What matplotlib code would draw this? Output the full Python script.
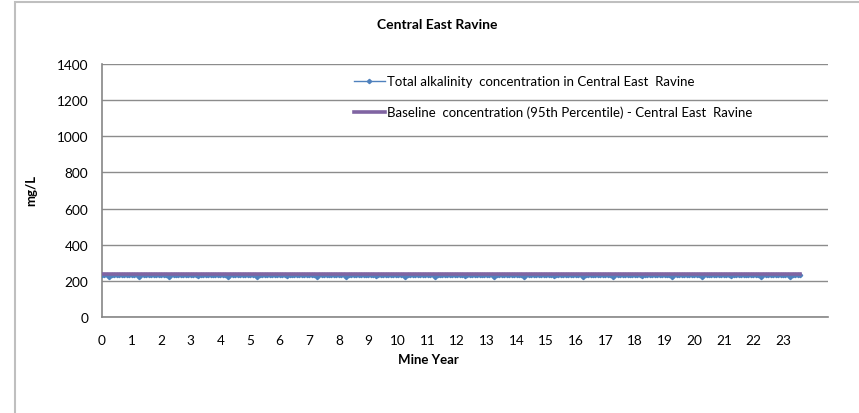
from __future__ import annotations

import matplotlib
matplotlib.use("Agg")
import matplotlib.pyplot as plt
from matplotlib.patches import Rectangle

plt.rcParams["font.family"] = ["Lato", "DejaVu Sans"]

title = "Central East Ravine"
alk_label = "Total alkalinity  concentration in Central East  Ravine"
base_label = "Baseline  concentration (95th Percentile) - Central East  Ravine"
year_ticks = list(range(0, 24))
y_ticks = [0, 200, 400, 600, 800, 1000, 1200, 1400]

# monthly alkalinity values (mg/L), one row per mine year
alk_by_year = [
    [233, 234, 233, 224, 232, 233, 234, 233, 232, 233, 234, 233],
    [233, 233, 234, 223, 232, 233, 233, 234, 233, 232, 233, 234],
    [234, 233, 233, 224, 233, 232, 233, 234, 233, 233, 232, 233],
    [233, 234, 233, 225, 232, 233, 234, 233, 233, 232, 233, 233],
    [233, 233, 232, 224, 233, 234, 233, 232, 233, 234, 233, 233],
    [232, 233, 234, 224, 233, 233, 232, 233, 234, 233, 233, 232],
    [233, 234, 233, 225, 232, 233, 233, 234, 233, 232, 233, 234],
    [233, 232, 233, 224, 234, 233, 232, 233, 233, 234, 233, 232],
    [234, 233, 233, 224, 233, 232, 234, 233, 232, 233, 233, 234],
    [233, 233, 234, 225, 232, 233, 233, 234, 233, 233, 232, 233],
    [232, 234, 233, 224, 233, 233, 234, 232, 233, 234, 233, 233],
    [233, 233, 232, 224, 234, 233, 233, 233, 232, 233, 234, 233],
    [234, 233, 233, 225, 233, 232, 233, 234, 233, 233, 233, 232],
    [233, 232, 234, 224, 233, 234, 233, 233, 232, 233, 234, 233],
    [233, 234, 233, 224, 232, 233, 234, 233, 233, 232, 233, 234],
    [232, 233, 233, 225, 234, 233, 232, 233, 234, 233, 233, 233],
    [233, 234, 232, 224, 233, 233, 234, 233, 232, 234, 233, 232],
    [234, 233, 233, 224, 232, 234, 233, 233, 233, 232, 234, 233],
    [233, 233, 234, 225, 233, 232, 233, 234, 233, 233, 232, 234],
    [232, 234, 233, 224, 233, 233, 234, 232, 233, 234, 233, 233],
    [233, 233, 233, 224, 234, 233, 232, 233, 234, 233, 233, 232],
    [234, 232, 233, 225, 233, 234, 233, 233, 232, 233, 234, 233],
    [233, 233, 234, 224, 232, 233, 233, 234, 233, 232, 233, 234],
    [233, 234, 233, 224, 233, 232, 234, 233],
]
baseline = 238

x = []
alk = []
for yr, row in enumerate(alk_by_year):
    for m, v in enumerate(row):
        x.append(yr + m / 12)
        alk.append(v)

fig = plt.figure(figsize=(8.59, 4.14), dpi=100)
ax = fig.add_axes([102 / 859, 1 - 318 / 414, (828 - 102) / 859, (318 - 65) / 414])

ax.plot(x, alk, color="#4F81BD", linewidth=1.0, marker="D", markersize=2.2,
        label=alk_label, zorder=3)
ax.plot(x, [baseline] * len(x), color="#8064A2", linewidth=2.6,
        label=base_label, zorder=4)

ax.set_xlim(0, 24.52)
ax.set_ylim(0, 1400)
ax.set_xticks(year_ticks)
ax.set_yticks(y_ticks)
ax.tick_params(axis="y", length=0, labelsize=9.8, pad=10)
ax.tick_params(axis="x", length=0, labelsize=9.8, pad=12)
ax.grid(axis="y", color="#8c8c8c", linewidth=1.0)
ax.set_axisbelow(True)
for side in ("top", "right"):
    ax.spines[side].set_visible(False)
for side in ("left", "bottom"):
    ax.spines[side].set_color("#868686")
    ax.spines[side].set_linewidth(1.2)

fig.text(437 / 859, 1 - 25 / 414, title, ha="center", va="center",
         fontsize=10, fontweight="bold")
fig.text(428 / 859, 1 - 360 / 414, "Mine Year", ha="center", va="center",
         fontsize=9.5, fontweight="bold")
fig.text(31 / 859, 1 - 191 / 414, "mg/L", ha="center", va="center",
         rotation=90, fontsize=9.5, fontweight="bold")

handles, labels = ax.get_legend_handles_labels()
fig.legend(handles, labels, loc="upper left",
           bbox_to_anchor=(349 / 859, 1 - 71 / 414), frameon=False,
           fontsize=9.5, handlelength=2.3, handletextpad=0.2, labelspacing=1.4,
           borderaxespad=0)

fig.patches.append(Rectangle((15 / 859, -0.1), 1.0, 1 - 3 / 414 + 0.1,
                             transform=fig.transFigure, fill=False,
                             edgecolor="#bfbfbf", linewidth=1.5))

fig.savefig("out.png", dpi=100)
plt.close(fig)
